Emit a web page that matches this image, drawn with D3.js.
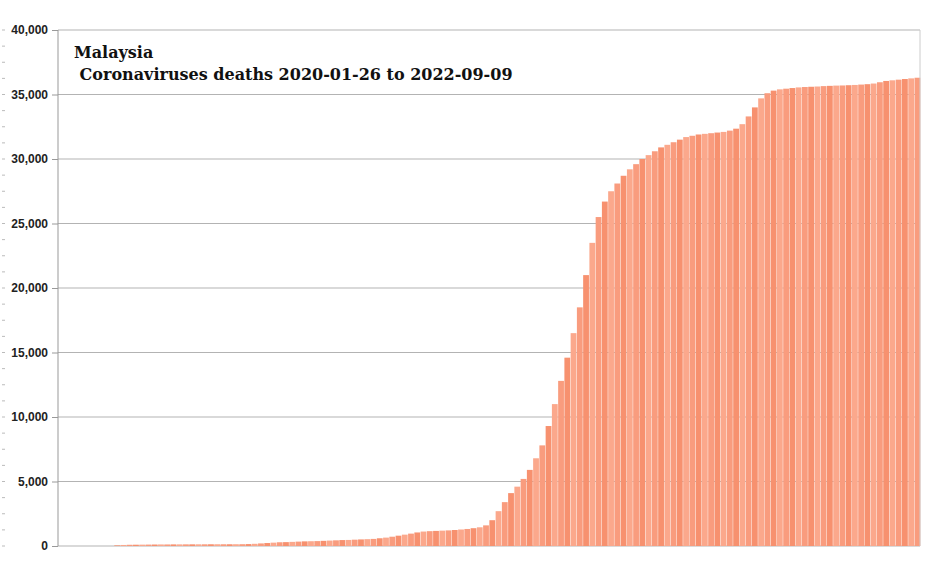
<!DOCTYPE html>
<html><head><meta charset="utf-8">
<script src="https://cdn.jsdelivr.net/npm/d3@7"></script>
<style>body{margin:0;background:#fff}</style></head>
<body><svg id="c" width="940" height="572"></svg>
<script>
// Weekly cumulative deaths, starting 2020-01-26
const weeks = d3.range(138).map(i => "W" + i);
const deaths = [0,0,0,0,0,0,0,0,0,
50,80,95,100,105,110,115,120,120,125,125,128,130,130,132,135,135,135,136,137,140,150,170,200,230,260,
290,300,320,340,360,370,380,400,420,440,460,470,490,510,530,550,600,650,720,800,880,960,1050,1120,1150,1170,1190,
1210,1240,1280,1320,1380,1450,1600,2000,2700,3400,4100,4600,5200,5900,6800,7800,9300,11000,12800,14600,16500,18500,
21000,23500,25500,26700,27500,28100,28700,29200,29600,30000,30300,30600,30900,31100,31300,31500,31700,31800,31900,
31950,32000,32050,32100,32200,32350,32700,33300,34000,34700,35100,35300,35400,35450,35500,35550,35580,35600,35620,
35650,35670,35690,35700,35720,35740,35770,35800,35850,35950,36050,36100,36150,36200,36250,36300];
const yTicks = [0,5000,10000,15000,20000,25000,30000,35000,40000];
const title1 = "Malaysia";
const title2 = " Coronaviruses deaths 2020-01-26 to 2022-09-09";

const svg = d3.select("#c");
const L=58, R=920, T=30, B=546;
const x = d3.scaleBand().domain(weeks).range([L,R]).paddingInner(0.12);
const y = d3.scaleLinear().domain([0,40000]).range([B,T]);

// grid
svg.append("g").selectAll("line").data(yTicks).join("line")
 .attr("x1",L).attr("x2",R).attr("y1",d=>y(d)).attr("y2",d=>y(d))
 .attr("stroke","#b3b3b3").attr("stroke-width",1);
// minor ticks at far left
svg.append("g").selectAll("line").data(d3.range(0,40001,1250)).join("line")
 .attr("x1",2).attr("x2",5).attr("y1",d=>y(d)).attr("y2",d=>y(d)).attr("stroke","#bbb");

// bars
svg.append("g").selectAll("rect").data(deaths).join("rect")
 .attr("x",(d,i)=>x(weeks[i])).attr("width",x.bandwidth()+0.3)
 .attr("y",d=>y(d)).attr("height",d=>B-y(d))
 .attr("fill",(d,i)=> i%3===0 ? "#f7916f" : (i%3===1 ? "#fba88c" : "#f99c7e"));

// frame
svg.append("line").attr("x1",L).attr("x2",L).attr("y1",T).attr("y2",B).attr("stroke","#999");
svg.append("line").attr("x1",R).attr("x2",R).attr("y1",T).attr("y2",B).attr("stroke","#ccc");

// y axis
const ax = svg.append("g").attr("transform",`translate(${L},0)`)
 .call(d3.axisLeft(y).tickValues(yTicks).tickFormat(d3.format(",")).tickSize(6));
ax.select(".domain").remove();
ax.selectAll("line").attr("stroke","#999");
ax.selectAll("text").attr("font-family","Liberation Sans, Arial").attr("font-weight","bold")
 .attr("font-size",12).attr("fill","#222").attr("dx",-1);

svg.append("text").attr("x",74).attr("y",58).text(title1)
 .attr("font-family","DejaVu Serif, serif").attr("font-size",16).attr("font-weight","bold").attr("fill","#111");
svg.append("text").attr("x",74).attr("y",80).text(title2).attr("xml:space","preserve")
 .style("white-space","pre")
 .attr("font-family","DejaVu Serif, serif").attr("font-size",16).attr("font-weight","bold").attr("fill","#111");
</script></body></html>
